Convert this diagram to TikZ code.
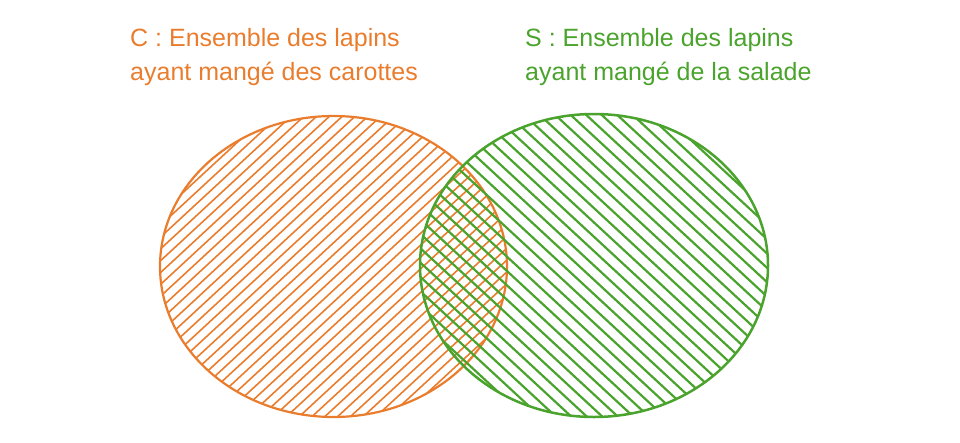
\documentclass[tikz,border=0pt]{standalone}
\usepackage{fontspec}
\setmainfont{Liberation Sans}
\usetikzlibrary{calc}
\definecolor{carotte}{RGB}{233,125,45}
\definecolor{salade}{RGB}{74,163,44}

\begin{document}
\begin{tikzpicture}[x=1pt,y=-1pt,
  legende/.style={anchor=base west,inner sep=0pt,font=\fontsize{25}{30}\selectfont}]
  \useasboundingbox (0,0) rectangle (960,442);
  \coordinate (C) at (333.5,266.5); %centre de C
  \coordinate (S) at (594,265.5); %centre de S
  % hachures de C
  \begin{scope}
    \clip (C) ellipse [x radius=173.5pt, y radius=150.5pt];
    \foreach \k in {-28,...,28}
      \draw[carotte,line width=1.6pt] ($(C)+(12.8*\k-200,185)$)--($(C)+(12.8*\k+200,-185)$);
  \end{scope}
  \draw[carotte,line width=2.2pt] (C) ellipse [x radius=173.5pt, y radius=150.5pt];
  % hachures de S
  \begin{scope}
    \clip (S) ellipse [x radius=174pt, y radius=151.5pt];
    \foreach \k in {-24,...,24}
      \draw[salade,line width=2.2pt] ($(S)+(15.5*\k-200,-185)$)--($(S)+(15.5*\k+200,185)$);
  \end{scope}
  \draw[salade,line width=2.5pt] (S) ellipse [x radius=174pt, y radius=151.5pt];
  % textes
  \node[legende,carotte] (titreC) at (130,46) {C : Ensemble des lapins};
  \node[legende,carotte] (suiteC) at (130,80) {ayant mangé des carottes};
  \node[legende,salade] (titreS) at (525,46) {S : Ensemble des lapins};
  \node[legende,salade] (suiteS) at (525,80) {ayant mangé de la salade};
\end{tikzpicture}
\end{document}
